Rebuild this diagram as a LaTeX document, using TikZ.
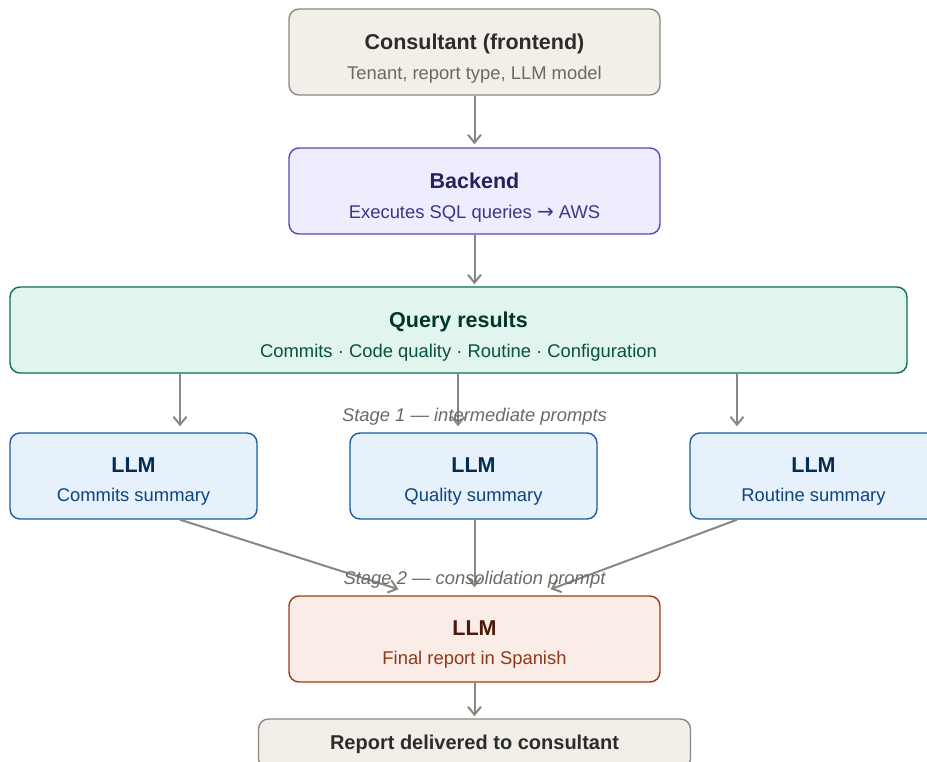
\documentclass[tikz,border=0pt]{standalone}
\usepackage{fontspec}
\setmainfont{Liberation Sans}
\newfontfamily\symfont{DejaVu Sans}
\usepackage{tikz}
\usetikzlibrary{arrows.meta, positioning}
\definecolor{neutralfill}{HTML}{F1EFE8}
\definecolor{neutralline}{HTML}{8A8983}
\definecolor{neutraltext}{HTML}{2C2C2A}
\definecolor{neutralsub}{HTML}{6A6964}
\definecolor{backfill}{HTML}{EEEDFE}
\definecolor{backline}{HTML}{534AB7}
\definecolor{backtext}{HTML}{26215C}
\definecolor{backsub}{HTML}{3C3489}
\definecolor{queryfill}{HTML}{E1F5EE}
\definecolor{queryline}{HTML}{0F6E56}
\definecolor{querytext}{HTML}{04342C}
\definecolor{querysub}{HTML}{085041}
\definecolor{llmfill}{HTML}{E6F1FB}
\definecolor{llmline}{HTML}{185FA5}
\definecolor{llmtext}{HTML}{042C53}
\definecolor{llmsub}{HTML}{0C447C}
\definecolor{finalfill}{HTML}{FAECE7}
\definecolor{finalline}{HTML}{993C1D}
\definecolor{finaltext}{HTML}{4A1B0C}
\definecolor{finalsub}{HTML}{8F381A}
\definecolor{flowgray}{HTML}{888780}

\begin{document}
\begin{tikzpicture}[x=1pt, y=-1pt,
    box/.style={rectangle, rounded corners=10pt, line width=1.4pt, minimum width=371pt, minimum height=86pt},
    neutralbox/.style={box, fill=neutralfill, draw=neutralline},
    backbox/.style={box, fill=backfill, draw=backline},
    querybox/.style={box, fill=queryfill, draw=queryline, minimum width=897pt},
    llmbox/.style={box, fill=llmfill, draw=llmline, minimum width=247pt},
    finalbox/.style={box, fill=finalfill, draw=finalline},
    ttl/.style={anchor=base, font=\fontsize{21.5}{24}\selectfont\bfseries},
    sub/.style={anchor=base, font=\fontsize{18.4}{21}\selectfont},
    stagelbl/.style={anchor=base, text=neutralsub, font=\fontsize{18.4}{21}\selectfont\itshape},
    flow/.style={-{Straight Barb[length=8pt, width=13pt]}, line width=2pt, draw=flowgray}]
    \useasboundingbox (0,0) rectangle (927,762);
    % boxes
    \node[neutralbox] (cons) at (474.5,52) {};
    \node[backbox] (back) at (474.5,191) {};
    \node[querybox] (qr) at (458.5,330) {};
    \node[llmbox] (l1) at (133.5,476) {};
    \node[llmbox] (l2) at (473.5,476) {};
    \node[llmbox] (l3) at (813.5,476) {};
    \node[finalbox] (fin) at (474.5,639) {};
    \node[neutralbox, minimum width=432pt, minimum height=50pt] (rep) at (474.5,744) {};
    % texts
    \node[ttl, text=neutraltext] (consT) at ([yshift=-41pt]cons.north) {Consultant (frontend)};
    \node[sub, text=neutralsub] (consS) at ([yshift=-71pt]cons.north) {Tenant, report type, LLM model};
    \node[ttl, text=backtext] (backT) at ([yshift=-41pt]back.north) {Backend};
    \node[sub, text=backsub] (backS) at ([yshift=-71pt]back.north) {Executes SQL queries {\symfont\fontsize{20}{22}\selectfont →} AWS};
    \node[ttl, text=querytext] (qrT) at ([yshift=-41pt]qr.north) {Query results};
    \node[sub, text=querysub] (qrS) at ([yshift=-71pt]qr.north) {Commits · Code quality · Routine · Configuration};
    \node[ttl, text=llmtext] (l1T) at ([yshift=-40pt]l1.north) {LLM};
    \node[sub, text=llmsub] (l1S) at ([yshift=-69pt]l1.north) {Commits summary};
    \node[ttl, text=llmtext] (l2T) at ([yshift=-40pt]l2.north) {LLM};
    \node[sub, text=llmsub] (l2S) at ([yshift=-69pt]l2.north) {Quality summary};
    \node[ttl, text=llmtext] (l3T) at ([yshift=-40pt]l3.north) {LLM};
    \node[sub, text=llmsub] (l3S) at ([yshift=-69pt]l3.north) {Routine summary};
    \node[ttl, text=finaltext] (finT) at ([yshift=-40pt]fin.north) {LLM};
    \node[sub, text=finalsub] (finS) at ([yshift=-69pt]fin.north) {Final report in Spanish};
    \node[ttl, text=neutraltext, font=\fontsize{20}{22}\selectfont\bfseries] (repT) at ([yshift=-31pt]rep.north) {Report delivered to consultant};
    % arrows
    \draw[flow, shorten >=3pt] (cons) -- (back);
    \draw[flow, shorten >=2pt] (back) -- (back |- qr.north);
    \draw[flow] ([xshift=-278.5pt]qr.south) -- ([xshift=46.5pt, yshift=6pt]l1.north);
    \draw[flow] ([xshift=-0.5pt]qr.south) -- ([xshift=-15.5pt, yshift=6pt]l2.north);
    \draw[flow] ([xshift=278.5pt]qr.south) -- ([xshift=-76.5pt, yshift=6pt]l3.north);
    \draw[flow] ([xshift=46.5pt]l1.south) -- ([xshift=-76pt, yshift=6pt]fin.north);
    \draw[flow] (fin.north |- l2.south) -- ([yshift=8pt]fin.north);
    \draw[flow] ([xshift=-76.5pt]l3.south) -- ([xshift=76pt, yshift=6pt]fin.north);
    \draw[flow, shorten >=2pt] (fin) -- (rep);
    % stage labels
    \node[stagelbl] (st1) at (474.5,421) {Stage 1 — intermediate prompts};
    \node[stagelbl] (st2) at (474.5,584) {Stage 2 — consolidation prompt};
\end{tikzpicture}
\end{document}
